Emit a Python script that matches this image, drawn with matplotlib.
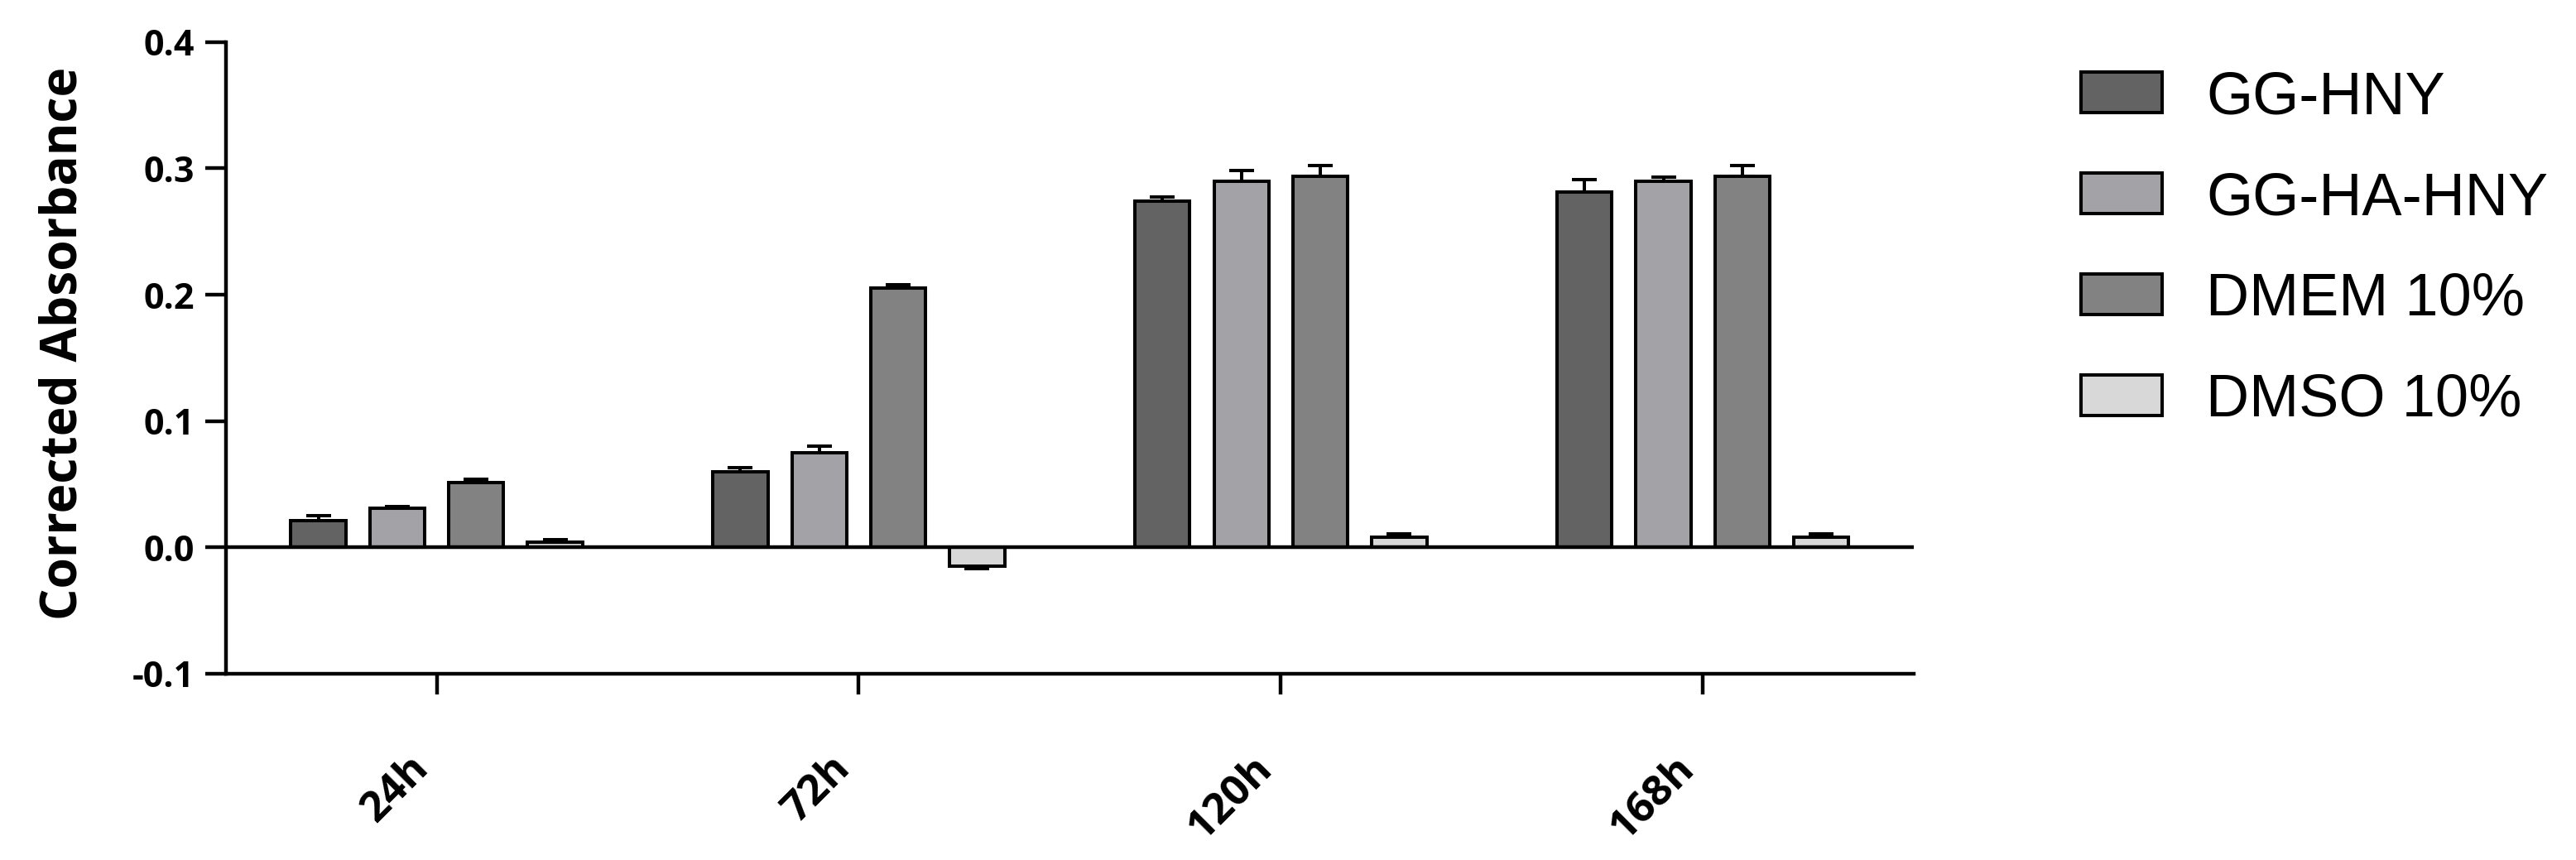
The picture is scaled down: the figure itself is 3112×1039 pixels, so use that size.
import numpy as np
import matplotlib
matplotlib.use("Agg")
import matplotlib.pyplot as plt
from matplotlib.transforms import ScaledTranslation

plt.rcParams['axes.unicode_minus'] = False

times = ['24h', '72h', '120h', '168h']
groups = ['GG-HNY', 'GG-HA-HNY', 'DMEM 10%', 'DMSO 10%']
gg_hny = [0.021, 0.060, 0.274, 0.281]
gg_ha_hny = [0.031, 0.075, 0.290, 0.290]
dmem = [0.051, 0.205, 0.294, 0.294]
dmso = [0.004, -0.015, 0.008, 0.008]
gg_hny_err = [0.004, 0.003, 0.0035, 0.010]
gg_ha_hny_err = [0.001, 0.005, 0.008, 0.003]
dmem_err = [0.003, 0.003, 0.008, 0.008]
dmso_err = [0.002, 0.002, 0.003, 0.003]

values = [gg_hny, gg_ha_hny, dmem, dmso]
errors = [gg_hny_err, gg_ha_hny_err, dmem_err, dmso_err]
colors = ['#636363', '#a3a2a7', '#828282', '#d8d8d8']

fig = plt.figure(figsize=(31.12, 10.39), dpi=100)
ax = fig.add_axes([0.0876, 0.2166, 0.743 - 0.0876, 0.9512 - 0.2166])

x = np.arange(len(times))
step = 0.187
width = 0.13
lw = 2.9
for i in range(4):
    xs = x + (i - 1.5) * step
    v = np.array(values[i])
    e = np.array(errors[i])
    lower = np.where(v < 0, e, 0)
    upper = np.where(v >= 0, e, 0)
    ax.errorbar(xs, v, yerr=[lower, upper], fmt='none', ecolor='black',
                elinewidth=lw, capsize=11, capthick=lw, zorder=2)
    ax.bar(xs, v, width, color=colors[i], edgecolor='black', linewidth=lw,
           label=groups[i], zorder=3)

ax.axhline(0, color='black', linewidth=3.2, zorder=4)

ax.set_xlim(-0.5, 3.5)
ax.set_ylim(-0.1, 0.4)
ax.set_yticks([-0.1, 0.0, 0.1, 0.2, 0.3, 0.4])
ax.set_yticklabels(['-0.1', '0.0', '0.1', '0.2', '0.3', '0.4'],
                   fontfamily='Open Sans', fontweight='bold', fontsize=31)
ax.set_xticks(x)
ax.set_xticklabels(times, rotation=45, ha='right', va='top',
                   fontfamily='Open Sans', fontweight='bold', fontsize=37)
shift = ScaledTranslation(21 / 72, 0, fig.dpi_scale_trans)
for lab in ax.get_xticklabels():
    lab.set_transform(lab.get_transform() + shift)
ax.set_ylabel('Corrected Absorbance', fontfamily='Open Sans',
              fontweight='bold', fontsize=43.5, labelpad=38)
ax.yaxis.label.set_y(0.523)

for s in ['top', 'right']:
    ax.spines[s].set_visible(False)
for s in ['left', 'bottom']:
    ax.spines[s].set_linewidth(3.2)
ax.tick_params(axis='x', length=18, width=3.2, pad=46)
ax.tick_params(axis='y', length=18, width=3.2, pad=9)

leg = fig.legend(loc='upper left', bbox_to_anchor=(0.808, 0.918), frameon=False,
                 prop={'family': 'Liberation Sans', 'size': 52},
                 handlelength=1.35, handleheight=0.67, handletextpad=0.74,
                 labelspacing=0.76, borderpad=0, borderaxespad=0)
for p in leg.get_patches():
    p.set_linewidth(2.9)

fig.savefig('out.png', dpi=100)
